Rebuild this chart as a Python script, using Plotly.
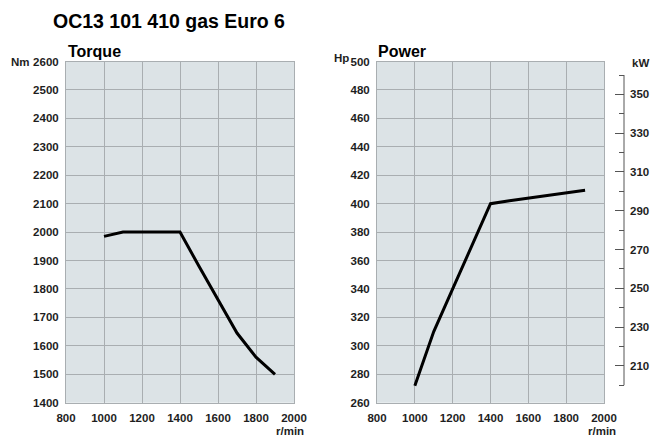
import plotly.graph_objects as go

# ---- data ----
rpm = [1000, 1100, 1200, 1300, 1400, 1500, 1600, 1700, 1800, 1900]
torque_nm = [1985, 2000, 2000, 2000, 2000, 1880, 1760, 1645, 1560, 1500]
power_hp = [272, 310, 340, 370, 400, 402, 404, 406, 408, 409.5]
kw_range = [200, 360]

title_text = "OC13 101 410 gas Euro 6"
W, H = 650, 436

FONT = "Liberation Sans, Arial, Helvetica, sans-serif"
BG = "#dce3e6"
GRID = "#a9aeb1"
TXT = "#1e1e1e"
AX = "#555555"
FS = 11.5


def px(x):
    return x / W


def py(y):
    return 1 - y / H


# pixel geometry of the power panel
top_px, bot_px = 61.5, 402.7
kw_top_px, kw_bot_px = 75.0, 385.2
k = (kw_bot_px - kw_top_px) / (kw_range[1] - kw_range[0])
kw_axis_range = [kw_range[0] - (bot_px - kw_bot_px) / k, kw_range[1] + (kw_top_px - top_px) / k]

fig = go.Figure()
fig.add_trace(go.Scatter(x=rpm, y=torque_nm, mode="lines", xaxis="x", yaxis="y",
                         line=dict(color="black", width=3), showlegend=False, hoverinfo="x+y"))
fig.add_trace(go.Scatter(x=rpm, y=power_hp, mode="lines", xaxis="x2", yaxis="y2",
                         line=dict(color="black", width=3), showlegend=False, hoverinfo="x+y"))
# empty trace to carry the kW scale
fig.add_trace(go.Scatter(x=[None], y=[None], xaxis="x2", yaxis="y3", showlegend=False,
                         hoverinfo="skip"))

ydom = [py(bot_px), py(top_px)]
tickfont = dict(family=FONT, size=FS, color=TXT, weight="bold")

common_x = dict(range=[800, 2000], dtick=200, tick0=800, showgrid=True, gridcolor=GRID,
                gridwidth=1, showline=True, linecolor=GRID, mirror=True, zeroline=False,
                ticks="outside", ticklen=4, tickcolor="rgba(0,0,0,0)", tickfont=tickfont,
                automargin=False)
common_y = dict(showgrid=True, gridcolor=GRID, gridwidth=1, showline=True, linecolor=GRID,
                mirror=True, zeroline=False, ticks="outside", ticklen=4,
                tickcolor="rgba(0,0,0,0)", tickfont=tickfont, automargin=False)

fig.update_layout(
    width=W, height=H,
    margin=dict(l=0, r=0, t=0, b=0),
    paper_bgcolor="white", plot_bgcolor=BG,
    xaxis=dict(domain=[px(66), px(294)], anchor="y", **common_x),
    yaxis=dict(domain=ydom, anchor="x", range=[1400, 2600], dtick=100, **common_y),
    xaxis2=dict(domain=[px(377), px(604)], anchor="y2", **common_x),
    yaxis2=dict(domain=ydom, anchor="x2", range=[260, 500], dtick=20, **common_y),
    yaxis3=dict(overlaying="y2", anchor="free", position=px(624), side="right",
                range=kw_axis_range, tick0=210, dtick=20, showgrid=False, zeroline=False,
                showline=False, automargin=False,
                ticks="inside", ticklen=9, tickcolor=AX, tickwidth=1,
                ticklabelstandoff=5, tickfont=tickfont,
                minor=dict(ticks="inside", ticklen=5, tick0=200, dtick=20,
                           tickcolor=AX, showgrid=False)),
)

fig.add_shape(type="line", xref="paper", yref="y3", x0=px(624), x1=px(624),
              y0=kw_range[0], y1=kw_range[1], line=dict(color=AX, width=1))

anns = [
    dict(text=title_text, x=px(51), y=py(21), xanchor="left", yanchor="middle",
         font=dict(family=FONT, size=19.5, color="black", weight="bold")),
    dict(text="Torque", x=px(66), y=py(52), xanchor="left", yanchor="middle",
         font=dict(family=FONT, size=16, color="black", weight="bold")),
    dict(text="Power", x=px(376), y=py(52), xanchor="left", yanchor="middle",
         font=dict(family=FONT, size=16, color="black", weight="bold")),
    dict(text="Nm", x=px(9), y=py(62), xanchor="left", yanchor="middle",
         font=dict(family=FONT, size=FS, color=TXT, weight="bold")),
    dict(text="Hp", x=px(332), y=py(58), xanchor="left", yanchor="middle",
         font=dict(family=FONT, size=FS, color=TXT, weight="bold")),
    dict(text="kW", x=px(630), y=py(63), xanchor="left", yanchor="middle",
         font=dict(family=FONT, size=FS, color=TXT, weight="bold")),
    dict(text="r/min", x=px(306), y=py(430.5), xanchor="right", yanchor="middle",
         font=dict(family=FONT, size=FS, color=TXT, weight="bold")),
    dict(text="r/min", x=px(618), y=py(430.5), xanchor="right", yanchor="middle",
         font=dict(family=FONT, size=FS, color=TXT, weight="bold")),
]
for a in anns:
    fig.add_annotation(xref="paper", yref="paper", showarrow=False, **a)

fig.write_html(
    "out.html",
    config={"displayModeBar": False},
    post_script="document.body.style.margin='0';"
                "document.documentElement.style.overflow='hidden';",
)
